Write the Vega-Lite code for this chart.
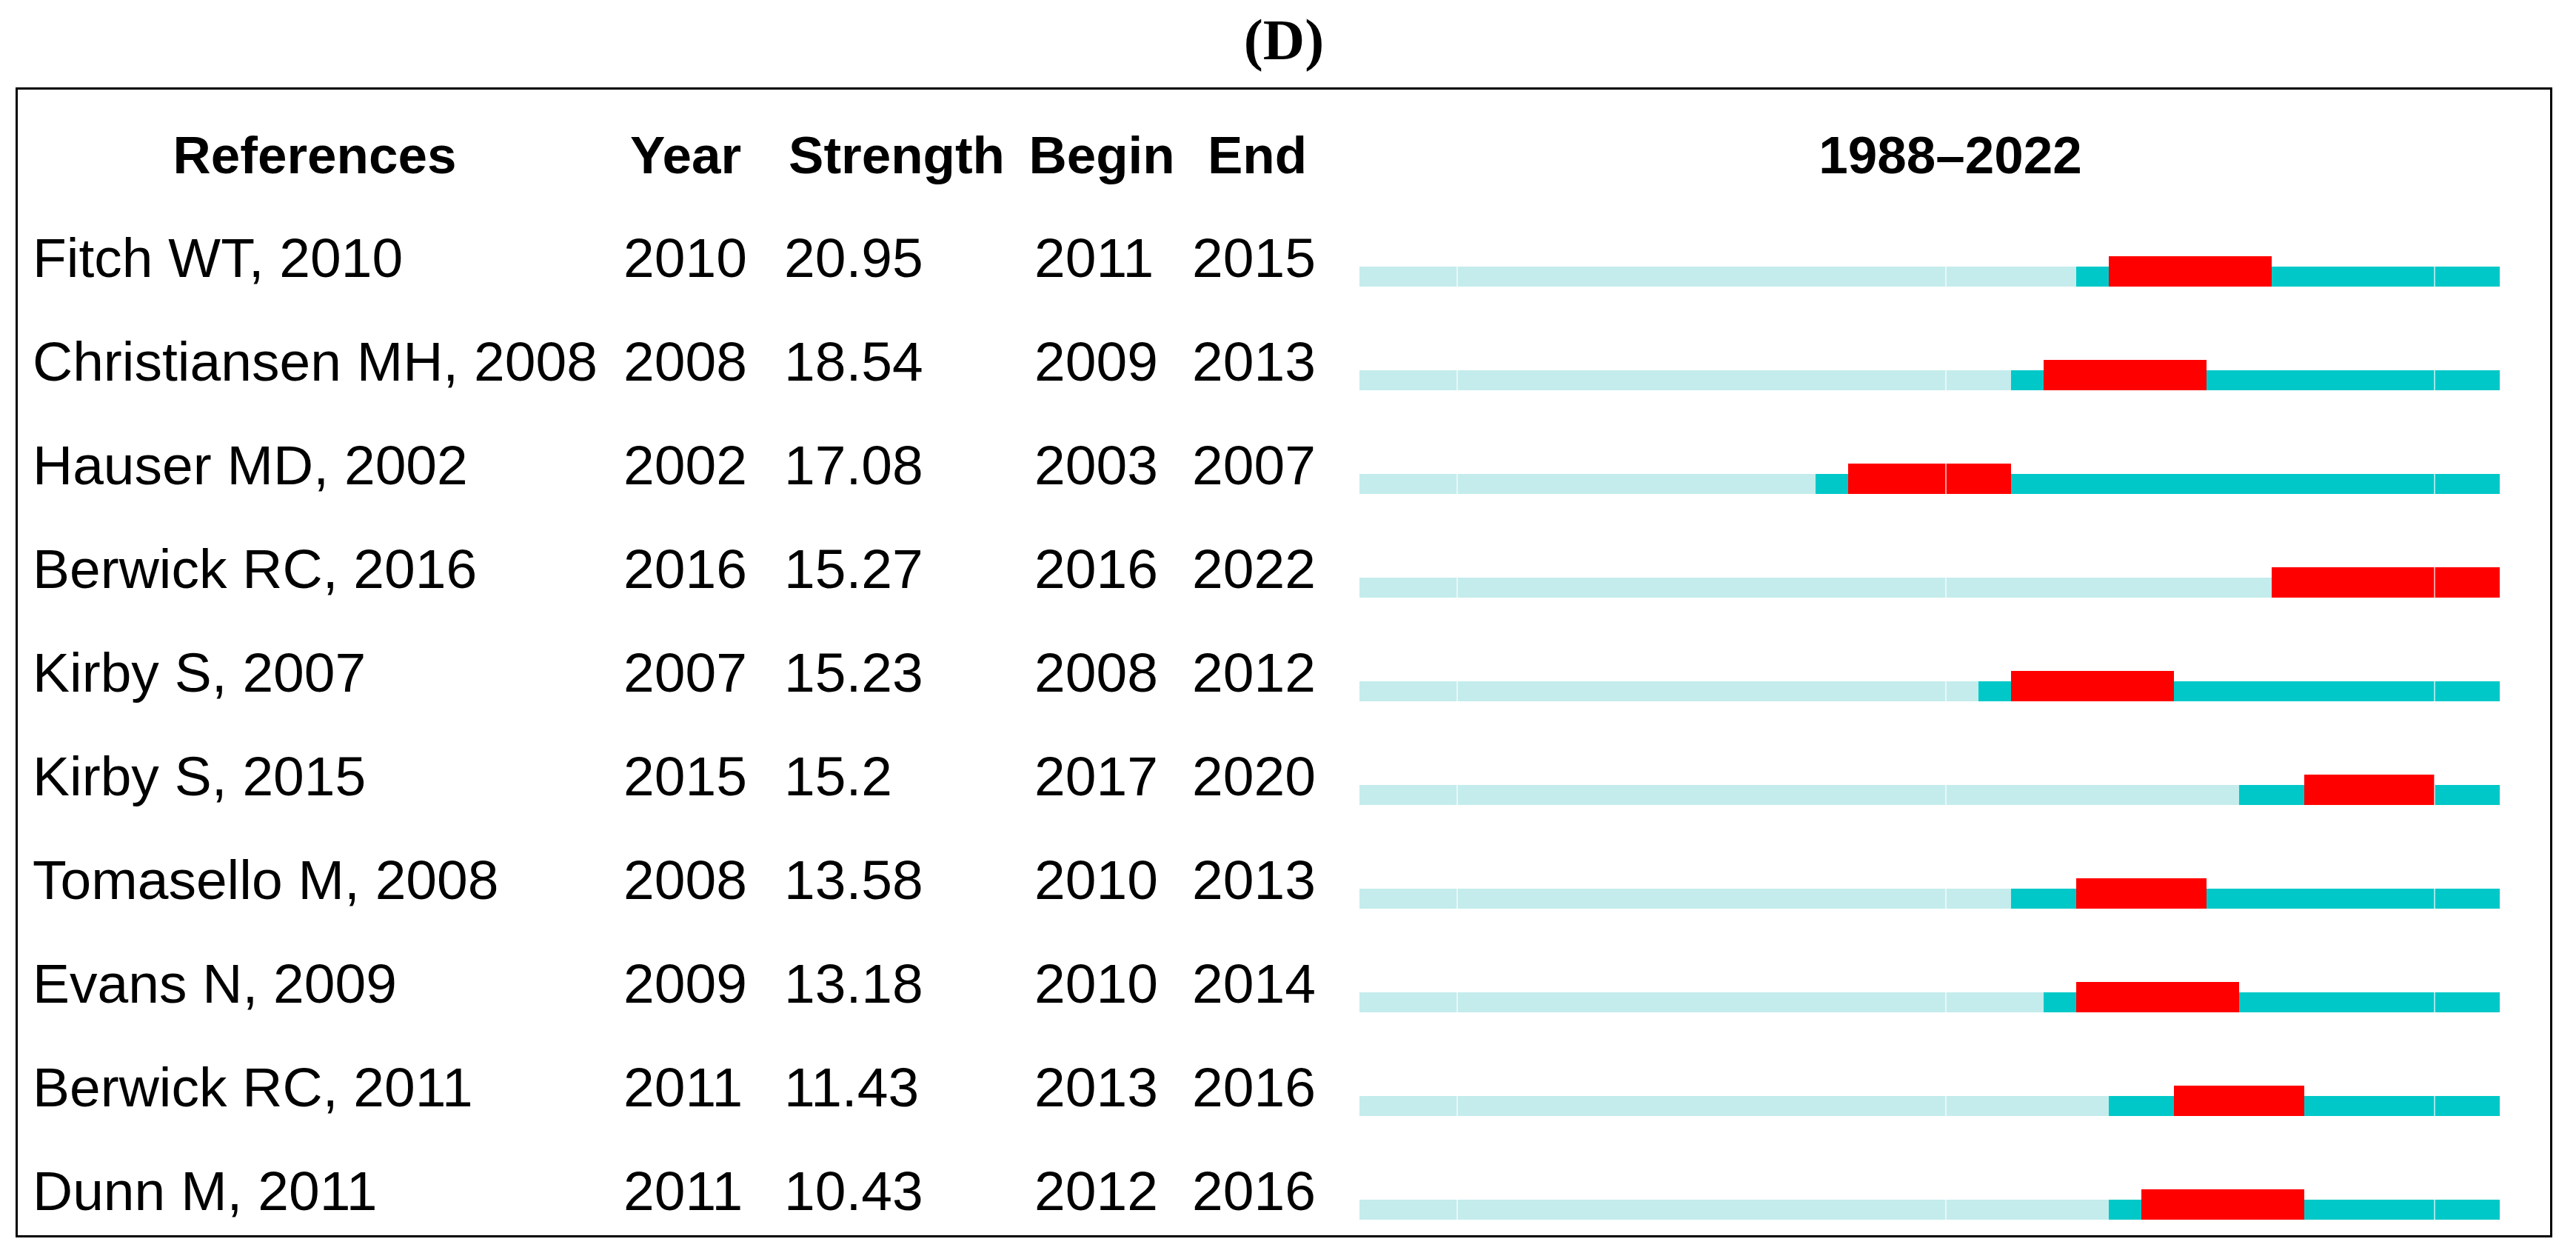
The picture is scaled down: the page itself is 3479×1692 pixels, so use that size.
{
  "$schema": "https://vega.github.io/schema/vega-lite/v6.json",
  "width": 3423,
  "height": 1550,
  "autosize": {"type": "none"},
  "padding": {"left": 22.5, "top": 119.5, "right": 33.5, "bottom": 22.5},
  "background": "white",
  "config": {"view": {"stroke": "black", "strokeWidth": 3}},
  "datasets": {
    "refs": [
      {"ref": "Fitch WT, 2010", "year": 2010, "strength": 20.95, "begin": 2011, "end": 2015},
      {"ref": "Christiansen MH, 2008", "year": 2008, "strength": 18.54, "begin": 2009, "end": 2013},
      {"ref": "Hauser MD, 2002", "year": 2002, "strength": 17.08, "begin": 2003, "end": 2007},
      {"ref": "Berwick RC, 2016", "year": 2016, "strength": 15.27, "begin": 2016, "end": 2022},
      {"ref": "Kirby S, 2007", "year": 2007, "strength": 15.23, "begin": 2008, "end": 2012},
      {"ref": "Kirby S, 2015", "year": 2015, "strength": 15.2, "begin": 2017, "end": 2020},
      {"ref": "Tomasello M, 2008", "year": 2008, "strength": 13.58, "begin": 2010, "end": 2013},
      {"ref": "Evans N, 2009", "year": 2009, "strength": 13.18, "begin": 2010, "end": 2014},
      {"ref": "Berwick RC, 2011", "year": 2011, "strength": 11.43, "begin": 2013, "end": 2016},
      {"ref": "Dunn M, 2011", "year": 2011, "strength": 10.43, "begin": 2012, "end": 2016}
    ],
    "cols": [
      {"key": "ref", "col": 0, "label": "References"},
      {"key": "year", "col": 1, "label": "Year"},
      {"key": "strength", "col": 2, "label": "Strength"},
      {"key": "begin", "col": 3, "label": "Begin"},
      {"key": "end", "col": 4, "label": "End"},
      {"key": "range", "col": 5, "label": "1988–2022"}
    ]
  },
  "layer": [
    {
      "data": {"name": "refs"},
      "mark": {"type": "bar", "height": 27, "color": "#C4ECEC"},
      "encoding": {
        "x": {"field": "year", "type": "quantitative", "axis": null, "scale": {"domain": [1988, 2023], "range": [1813.5, 3353.5], "zero": false, "nice": false}},
        "x2": {"datum": 1988},
        "y": {"field": "ref", "type": "nominal", "axis": null,
              "scale": {"type": "band", "domain": ["title", "header", "Fitch WT, 2010", "Christiansen MH, 2008", "Hauser MD, 2002", "Berwick RC, 2016", "Kirby S, 2007", "Kirby S, 2015", "Tomasello M, 2008", "Evans N, 2009", "Berwick RC, 2011", "Dunn M, 2011"], "range": [-96, 1584], "paddingInner": 0, "paddingOuter": 0}}
      }
    },
    {
      "data": {"name": "refs"},
      "mark": {"type": "bar", "height": 27, "color": "#00C8C8"},
      "encoding": {
        "x": {"field": "year", "type": "quantitative", "axis": null, "scale": {"domain": [1988, 2023], "range": [1813.5, 3353.5], "zero": false, "nice": false}},
        "x2": {"datum": 2023},
        "y": {"field": "ref", "type": "nominal", "axis": null}
      }
    },
    {
      "data": {"name": "refs"},
      "mark": {"type": "bar", "height": 41, "yOffset": -7, "x2Offset": 44, "color": "#FF0000"},
      "encoding": {
        "x": {"field": "begin", "type": "quantitative", "axis": null, "scale": {"domain": [1988, 2023], "range": [1813.5, 3353.5], "zero": false, "nice": false}},
        "x2": {"field": "end"},
        "y": {"field": "ref", "type": "nominal", "axis": null}
      }
    },
    {
      "data": {"values": [{"sep": 1991}, {"sep": 2006}, {"sep": 2021}]},
      "mark": {"type": "rule", "color": "white", "strokeWidth": 1.2, "yOffset": -32, "y2Offset": 30},
      "encoding": {
        "x": {"field": "sep", "type": "quantitative", "axis": null, "scale": {"domain": [1988, 2023], "range": [1813.5, 3353.5], "zero": false, "nice": false}},
        "y": {"datum": "Fitch WT, 2010", "type": "nominal", "axis": null},
        "y2": {"datum": "Dunn M, 2011"}
      }
    },
    {
      "data": {"name": "refs"},
      "transform": [
        {"fold": ["ref", "year", "strength", "begin", "end"], "as": ["key", "value"]},
        {"lookup": "key", "from": {"data": {"name": "cols"}, "key": "key", "fields": ["col"]}}
      ],
      "mark": {"type": "text", "align": "left", "baseline": "alphabetic", "font": "Liberation Sans", "fontSize": 75, "color": "black"},
      "encoding": {
        "x": {"field": "col", "type": "quantitative", "axis": null,
              "scale": {"domain": [0, 1, 2, 3, 4], "range": [21.5, 819.5, 1036.5, 1374.5, 1587.5], "zero": false, "nice": false}},
        "y": {"field": "ref", "type": "nominal", "axis": null},
        "text": {"field": "value", "type": "nominal"}
      }
    },
    {
      "data": {"name": "cols"},
      "mark": {"type": "text", "align": "center", "baseline": "alphabetic", "font": "Liberation Sans", "fontSize": 71, "fontWeight": "bold", "color": "black"},
      "encoding": {
        "x": {"field": "col", "type": "quantitative", "axis": null,
              "scale": {"domain": [0, 1, 2, 3, 4, 5], "range": [402.5, 903.5, 1188.5, 1465.5, 1675.5, 2611.5], "zero": false, "nice": false}},
        "y": {"datum": "header", "type": "nominal", "axis": null},
        "text": {"field": "label", "type": "nominal"}
      }
    },
    {
      "data": {"values": [{"panel": "(D)", "pos": 0.5}]},
      "mark": {"type": "text", "align": "center", "baseline": "alphabetic", "dy": -13.5, "font": "Liberation Serif", "fontSize": 78, "fontWeight": "bold", "color": "black"},
      "encoding": {
        "x": {"field": "pos", "type": "quantitative", "axis": null, "scale": {"domain": [0, 1], "range": "width", "zero": false, "nice": false}},
        "y": {"datum": "title", "type": "nominal", "axis": null},
        "text": {"field": "panel", "type": "nominal"}
      }
    }
  ],
  "resolve": {"scale": {"x": "independent"}}
}
